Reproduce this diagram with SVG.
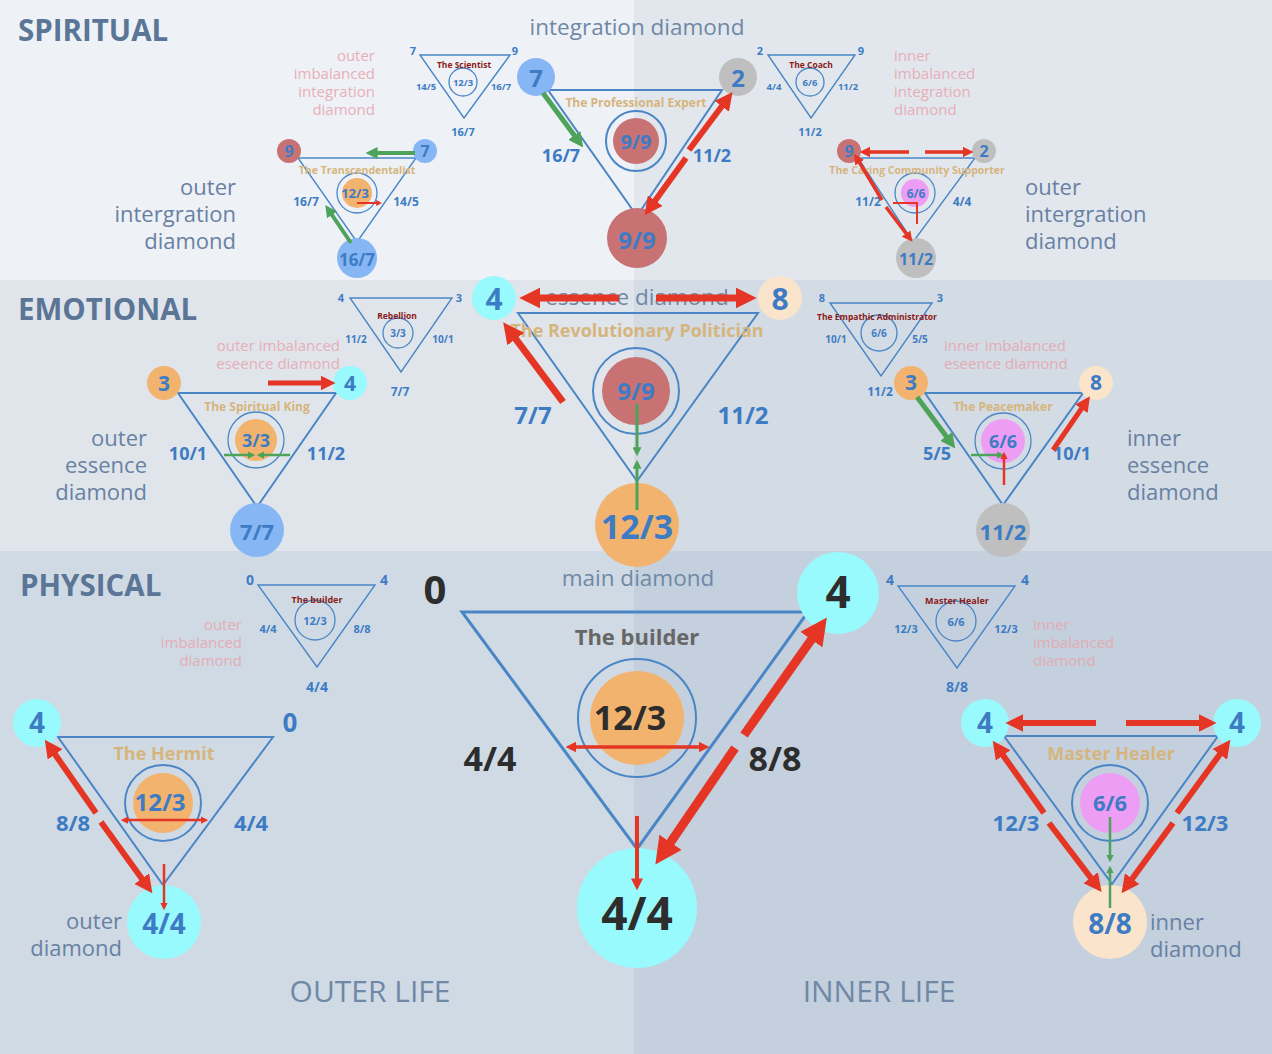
<svg xmlns="http://www.w3.org/2000/svg" width="1272" height="1054" viewBox="0 0 1272 1054">
<style>
text{font-family:"Open Sans","Noto Sans",sans-serif}
.b{font-weight:bold;fill:#3d7cc4;text-anchor:middle;dominant-baseline:central}
.d{font-weight:bold;fill:#2d2d2d;text-anchor:middle;dominant-baseline:central}
.tan{font-weight:bold;fill:#d6b57d;text-anchor:middle;dominant-baseline:central}
.dr{font-weight:bold;fill:#8b1a1a;text-anchor:middle;dominant-baseline:central}
.pk{fill:#e9a5ae;opacity:.85;font-size:15px}
.side{fill:#6881a3;font-size:22px}
.hd{font-weight:bold;fill:#5a7596;font-size:29.5px}
.cap{fill:#6f88a6;font-size:22.5px;text-anchor:middle}
.tri{fill:none;stroke:#4a86c6;stroke-width:2}
.tri1{fill:none;stroke:#4a86c6;stroke-width:1.4}
.ring{fill:none;stroke:#4a86c6;stroke-width:2}
.ring1{fill:none;stroke:#4a86c6;stroke-width:1.3}
.cb{fill:#86b6f3}.cg{fill:#bfbfbf}.cr{fill:#c87274}.co{fill:#f2b36f}.cc{fill:#98fafc}.cp{fill:#fbe4cc}.ck{fill:#ee9df5}
.ar{stroke:#e53525;fill:none;marker-end:url(#mr)}
.ag{stroke:#4ea35a;fill:none;marker-end:url(#mg)}
.dbl{marker-start:url(#mr)}
</style>
<defs>
<marker id="mr" viewBox="0 0 10 10" refX="3" refY="5" markerWidth="3" markerHeight="3" orient="auto-start-reverse"><path d="M0,0L10,5L0,10z" fill="#e53525"/></marker>
<marker id="mg" viewBox="0 0 10 10" refX="3" refY="5" markerWidth="3" markerHeight="3" orient="auto-start-reverse"><path d="M0,0L10,5L0,10z" fill="#4ea35a"/></marker>
</defs>
<g id="background">
<rect x="0" y="0" width="634" height="280" fill="#eef1f6"/>
<rect x="634" y="0" width="638" height="280" fill="#e2e7ed"/>
<rect x="0" y="280" width="634" height="271" fill="#e0e5eb"/>
<rect x="634" y="280" width="638" height="271" fill="#d3dbe4"/>
<rect x="0" y="551" width="634" height="503" fill="#d0dae4"/>
<rect x="634" y="551" width="638" height="503" fill="#c4d0dd"/>
</g>
<g id="labels">
<text class="hd" x="18" y="41">SPIRITUAL</text>
<text class="hd" x="18" y="320">EMOTIONAL</text>
<text class="hd" x="20" y="596">PHYSICAL</text>
<text class="cap" x="637" y="35">integration diamond</text>
<text class="cap" x="637" y="305">essence diamond</text>
<text class="cap" x="638" y="586">main diamond</text>
<text class="cap" x="370" y="1002" style="font-size:30px">OUTER LIFE</text>
<text class="cap" x="879" y="1002" style="font-size:30px">INNER LIFE</text>
<text class="side" text-anchor="end"><tspan x="236" y="195">outer</tspan><tspan x="236" y="222">intergration</tspan><tspan x="236" y="249">diamond</tspan></text>
<text class="side"><tspan x="1025" y="195">outer</tspan><tspan x="1025" y="222">intergration</tspan><tspan x="1025" y="249">diamond</tspan></text>
<text class="side" text-anchor="end"><tspan x="147" y="446">outer</tspan><tspan x="147" y="473">essence</tspan><tspan x="147" y="500">diamond</tspan></text>
<text class="side"><tspan x="1127" y="446">inner</tspan><tspan x="1127" y="473">essence</tspan><tspan x="1127" y="500">diamond</tspan></text>
<text class="side" text-anchor="end"><tspan x="122" y="929">outer</tspan><tspan x="122" y="956">diamond</tspan></text>
<text class="side"><tspan x="1150" y="930">inner</tspan><tspan x="1150" y="957">diamond</tspan></text>
<text class="pk" text-anchor="end"><tspan x="375" y="61">outer</tspan><tspan x="375" y="79">imbalanced</tspan><tspan x="375" y="97">integration</tspan><tspan x="375" y="115">diamond</tspan></text>
<text class="pk"><tspan x="894" y="61">inner</tspan><tspan x="894" y="79">imbalanced</tspan><tspan x="894" y="97">integration</tspan><tspan x="894" y="115">diamond</tspan></text>
<text class="pk" text-anchor="end"><tspan x="340" y="351">outer imbalanced</tspan><tspan x="340" y="369">eseence diamond</tspan></text>
<text class="pk"><tspan x="944" y="351">inner imbalanced</tspan><tspan x="944" y="369">eseence diamond</tspan></text>
<text class="pk" text-anchor="end"><tspan x="242" y="630">outer</tspan><tspan x="242" y="648">imbalanced</tspan><tspan x="242" y="666">diamond</tspan></text>
<text class="pk"><tspan x="1033" y="630">inner</tspan><tspan x="1033" y="648">imbalanced</tspan><tspan x="1033" y="666">diamond</tspan></text>
</g>

<g id="scientist">
<path class="tri1" d="M420,55H510L464,118Z"/>
<circle class="ring1" cx="463" cy="82" r="14"/>
<text class="b" x="413" y="50" font-size="11">7</text>
<text class="b" x="515" y="50" font-size="11">9</text>
<text class="dr" x="464" y="64" font-size="8.5">The Scientist</text>
<text class="b" x="463" y="82" font-size="9.5">12/3</text>
<text class="b" x="426" y="86" font-size="9.5">14/5</text>
<text class="b" x="501" y="86" font-size="9.5">16/7</text>
<text class="b" x="463" y="131" font-size="11">16/7</text>
</g>
<g id="coach">
<path class="tri1" d="M768,55H855L811,118Z"/>
<circle class="ring1" cx="810" cy="82" r="14"/>
<text class="b" x="760" y="50" font-size="11">2</text>
<text class="b" x="861" y="50" font-size="11">9</text>
<text class="dr" x="811" y="64" font-size="8.5">The Coach</text>
<text class="b" x="810" y="82" font-size="9.5">6/6</text>
<text class="b" x="774" y="86" font-size="9.5">4/4</text>
<text class="b" x="848" y="86" font-size="9.5">11/2</text>
<text class="b" x="810" y="131" font-size="11">11/2</text>
</g>
<g id="professional-expert">
<path class="tri" d="M548,90H722L637,216Z"/>
<circle class="ring" cx="636" cy="141" r="30"/>
<circle class="cr" cx="636" cy="141" r="23"/>
<text class="b" x="636" y="141" font-size="20">9/9</text>
<text class="tan" x="636" y="102" font-size="12">The Professional Expert</text>
<text class="b" x="561" y="155" font-size="18">16/7</text>
<text class="b" x="712" y="155" font-size="18">11/2</text>
</g>
<g id="n-7-pe"><circle class="cb" cx="536" cy="77" r="19"/><text class="b" x="536" y="77" font-size="24">7</text></g>
<g id="n-2-pe"><circle class="cg" cx="738" cy="77" r="19"/><text class="b" x="738" y="77" font-size="24">2</text></g>
<g id="n-99-pe"><circle class="cr" cx="637" cy="238" r="30"/><text class="b" x="637" y="239" font-size="24">9/9</text></g>

<g id="transcendentalist">
<path class="tri1" d="M298,158H416L357,242Z"/>
<circle class="ring1" cx="357" cy="193" r="20"/>
<circle class="co" cx="357" cy="193" r="15"/>
<text class="b" x="355" y="193" font-size="13">12/3</text>
<text class="tan" x="357" y="170" font-size="10.5">The Transcendentalist</text>
<text class="b" x="306" y="201" font-size="12">16/7</text>
<text class="b" x="406" y="201" font-size="12">14/5</text>
<circle class="cr" cx="289" cy="151" r="12"/><text class="b" x="289" y="151" font-size="16">9</text>
<circle class="cb" cx="425" cy="151" r="12"/><text class="b" x="425" y="151" font-size="16">7</text>
<circle class="cb" cx="357" cy="258" r="20"/><text class="b" x="357" y="259" font-size="17">16/7</text>
</g>
<g id="caring-community-supporter">
<path class="tri1" d="M858,158H975L913,242Z"/>
<circle class="ring1" cx="915" cy="193" r="20"/>
<circle class="ck" cx="915" cy="193" r="14"/>
<text class="b" x="916" y="193" font-size="12">6/6</text>
<text class="tan" x="917" y="170" font-size="10.5">The Caring Community Supporter</text>
<text class="b" x="868" y="201" font-size="12">11/2</text>
<text class="b" x="962" y="201" font-size="12">4/4</text>
<circle class="cr" cx="849" cy="151" r="12"/><text class="b" x="849" y="151" font-size="16">9</text>
<circle class="cg" cx="984" cy="151" r="12"/><text class="b" x="984" y="151" font-size="16">2</text>
<circle class="cg" cx="916" cy="258" r="20"/><text class="b" x="916" y="259" font-size="16">11/2</text>
</g>

<g id="rebellion">
<path class="tri1" d="M350,298H452L401,372Z"/>
<circle class="ring1" cx="398" cy="333" r="15"/>
<text class="b" x="341" y="297" font-size="11">4</text>
<text class="b" x="459" y="297" font-size="11">3</text>
<text class="dr" x="397" y="315" font-size="8.5">Rebellion</text>
<text class="b" x="398" y="333" font-size="10">3/3</text>
<text class="b" x="356" y="339" font-size="10">11/2</text>
<text class="b" x="443" y="339" font-size="10">10/1</text>
<text class="b" x="400" y="391" font-size="12">7/7</text>
</g>
<g id="empathic-administrator">
<path class="tri1" d="M830,303H932L881,376Z"/>
<circle class="ring1" cx="879" cy="333" r="18"/>
<text class="b" x="822" y="297" font-size="11">8</text>
<text class="b" x="940" y="297" font-size="11">3</text>
<text class="dr" x="877" y="316" font-size="8.5">The Empathic Administrator</text>
<text class="b" x="879" y="333" font-size="10">6/6</text>
<text class="b" x="836" y="339" font-size="10">10/1</text>
<text class="b" x="920" y="339" font-size="10">5/5</text>
<text class="b" x="880" y="391" font-size="12">11/2</text>
</g>
<g id="revolutionary-politician">
<path class="tri" d="M518,313H758L637,481Z"/>
<circle class="ring" cx="636" cy="391" r="43"/>
<circle class="cr" cx="636" cy="391" r="34"/>
<text class="b" x="636" y="390" font-size="24">9/9</text>
<text class="tan" x="637" y="330" font-size="18">The Revolutionary Politician</text>
<text class="b" x="533" y="414" font-size="24">7/7</text>
<text class="b" x="743" y="414" font-size="24">11/2</text>
</g>
<g id="n-4-rp"><circle class="cc" cx="494" cy="298" r="22"/><text class="b" x="494" y="298" font-size="30">4</text></g>
<g id="n-8-rp"><circle class="cp" cx="780" cy="298" r="22"/><text class="b" x="780" y="298" font-size="30">8</text></g>
<g id="n-123-rp"><circle class="co" cx="637" cy="525" r="42"/><text class="b" x="637" y="526" font-size="34">12/3</text></g>

<g id="spiritual-king">
<path class="tri" d="M178,393H336L257,507Z"/>
<circle class="ring1" cx="256" cy="440" r="28"/>
<circle class="co" cx="256" cy="440" r="21"/>
<text class="b" x="256" y="440" font-size="18">3/3</text>
<text class="tan" x="257" y="406" font-size="12">The Spiritual King</text>
<text class="b" x="188" y="453" font-size="18">10/1</text>
<text class="b" x="326" y="453" font-size="18">11/2</text>
<circle class="co" cx="164" cy="383" r="17"/><text class="b" x="164" y="383" font-size="21">3</text>
<circle class="cc" cx="350" cy="383" r="17"/><text class="b" x="350" y="383" font-size="21">4</text>
<circle class="cb" cx="257" cy="530" r="27"/><text class="b" x="257" y="531" font-size="22">7/7</text>
</g>
<g id="peacemaker">
<path class="tri" d="M925,393H1083L1003,505Z"/>
<circle class="ring1" cx="1003" cy="441" r="28"/>
<circle class="ck" cx="1003" cy="441" r="22"/>
<text class="b" x="1003" y="441" font-size="18">6/6</text>
<text class="tan" x="1003" y="406" font-size="12">The Peacemaker</text>
<text class="b" x="937" y="453" font-size="18">5/5</text>
<text class="b" x="1072" y="453" font-size="18">10/1</text>
<circle class="co" cx="911" cy="383" r="17"/><text class="b" x="911" y="382" font-size="21">3</text>
<circle class="cp" cx="1096" cy="383" r="17"/><text class="b" x="1096" y="382" font-size="21">8</text>
<circle class="cg" cx="1003" cy="530" r="27"/><text class="b" x="1003" y="531" font-size="22">11/2</text>
</g>

<g id="builder-small">
<path class="tri1" d="M258,585H375L317,667Z"/>
<circle class="ring1" cx="315" cy="620" r="20"/>
<text class="b" x="250" y="579" font-size="14">0</text>
<text class="b" x="384" y="579" font-size="14">4</text>
<text class="dr" x="317" y="599" font-size="9">The builder</text>
<text class="b" x="315" y="620" font-size="11">12/3</text>
<text class="b" x="268" y="628" font-size="11">4/4</text>
<text class="b" x="362" y="628" font-size="11">8/8</text>
<text class="b" x="317" y="686" font-size="14">4/4</text>
</g>
<g id="master-healer-small">
<path class="tri1" d="M898,586H1015L957,668Z"/>
<circle class="ring1" cx="956" cy="621" r="20"/>
<text class="b" x="890" y="579" font-size="14">4</text>
<text class="b" x="1025" y="579" font-size="14">4</text>
<text class="dr" x="957" y="600" font-size="9">Master Healer</text>
<text class="b" x="956" y="621" font-size="11">6/6</text>
<text class="b" x="906" y="628" font-size="11">12/3</text>
<text class="b" x="1006" y="628" font-size="11">12/3</text>
<text class="b" x="957" y="686" font-size="14">8/8</text>
</g>
<g id="builder-main">
<path class="tri" d="M462,612H808L637,849Z" style="stroke-width:3"/>
<circle class="ring" cx="637" cy="718" r="59"/>
<circle class="co" cx="637" cy="718" r="47"/>
<text class="d" x="630" y="717" font-size="34">12/3</text>
<text x="637" y="636" font-size="22" font-weight="bold" fill="#666" text-anchor="middle" dominant-baseline="central">The builder</text>
<text class="d" x="490" y="758" font-size="34">4/4</text>
<text class="d" x="775" y="758" font-size="34">8/8</text>
<text class="d" x="435" y="588" font-size="40">0</text>
</g>
<g id="n-4-main"><circle class="cc" cx="838" cy="593" r="41"/><text class="d" x="838" y="591" font-size="44">4</text></g>
<g id="n-44-main"><circle class="cc" cx="637" cy="908" r="60"/><text class="d" x="637" y="912" font-size="46">4/4</text></g>

<g id="hermit">
<path class="tri" d="M58,737H273L163,885Z"/>
<circle class="ring" cx="163" cy="803" r="38"/>
<circle class="co" cx="163" cy="803" r="30"/>
<text class="b" x="160" y="801" font-size="24">12/3</text>
<text class="tan" x="164" y="753" font-size="18">The Hermit</text>
<text class="b" x="73" y="822" font-size="22">8/8</text>
<text class="b" x="251" y="822" font-size="22">4/4</text>
<text class="b" x="290" y="722" font-size="26">0</text>
<circle class="cc" cx="37" cy="723" r="24"/><text class="b" x="37" y="722" font-size="28">4</text>
<circle class="cc" cx="164" cy="922" r="37"/><text class="b" x="164" y="923" font-size="28">4/4</text>
</g>
<g id="master-healer">
<path class="tri" d="M1004,736H1218L1112,884Z"/>
<circle class="ring" cx="1110" cy="803" r="38"/>
<circle class="ck" cx="1110" cy="803" r="30"/>
<text class="b" x="1110" y="802" font-size="22">6/6</text>
<text class="tan" x="1111" y="753" font-size="18">Master Healer</text>
<text class="b" x="1016" y="822" font-size="22">12/3</text>
<text class="b" x="1205" y="822" font-size="22">12/3</text>
<circle class="cc" cx="985" cy="723" r="24"/><text class="b" x="985" y="722" font-size="28">4</text>
<circle class="cc" cx="1237" cy="723" r="24"/><text class="b" x="1237" y="722" font-size="28">4</text>
<circle class="cp" cx="1110" cy="922" r="37"/><text class="b" x="1110" y="923" font-size="28">8/8</text>
</g>

<g id="connectors">
<line class="ag" x1="543" y1="93" x2="577" y2="139" stroke-width="5"/>
<line class="ar" x1="689" y1="150" x2="725" y2="102" stroke-width="6"/>
<line class="ar" x1="686" y1="158" x2="652" y2="205" stroke-width="6"/>
<line class="ag" x1="415" y1="153" x2="374" y2="153" stroke-width="4"/>
<line class="ag" x1="351" y1="243" x2="330" y2="212" stroke-width="4"/>
<line class="ar" x1="357" y1="203" x2="378" y2="203" stroke-width="2"/>
<line class="ar" x1="909" y1="152" x2="867" y2="152" stroke-width="3.5"/>
<line class="ar" x1="925" y1="152" x2="966" y2="152" stroke-width="3.5"/>
<line class="ar" x1="882" y1="200" x2="858" y2="160" stroke-width="3.5"/>
<line class="ar" x1="886" y1="207" x2="908" y2="236" stroke-width="3.5"/>
<path d="M893,203H917V224" stroke="#e53525" stroke-width="2" fill="none"/>
<line class="ar" x1="619" y1="298" x2="534" y2="298" stroke-width="7"/>
<line class="ar" x1="656" y1="298" x2="742" y2="298" stroke-width="7"/>
<line class="ar" x1="563" y1="402" x2="512" y2="334" stroke-width="7"/>
<line class="ag" x1="637" y1="404" x2="637" y2="450" stroke-width="3"/>
<line class="ag" x1="637" y1="510" x2="637" y2="466" stroke-width="3"/>
<line class="ar" x1="268" y1="383" x2="325" y2="383" stroke-width="5"/>
<line class="ag" x1="224" y1="455" x2="250" y2="455" stroke-width="2.5"/>
<line class="ag" x1="290" y1="455" x2="262" y2="455" stroke-width="2.5"/>
<line class="ag" x1="917" y1="397" x2="949" y2="440" stroke-width="5"/>
<line class="ar" x1="1053" y1="450" x2="1084" y2="405" stroke-width="5"/>
<line class="ag" x1="971" y1="455" x2="999" y2="455" stroke-width="2.5"/>
<line class="ar" x1="1004" y1="485" x2="1004" y2="457" stroke-width="2.5"/>
<line class="ar dbl" x1="573" y1="747" x2="702" y2="747" stroke-width="3.5"/>
<line class="ar" x1="637" y1="816" x2="637" y2="882" stroke-width="4"/>
<line class="ar" x1="744" y1="735" x2="816" y2="633" stroke-width="9"/>
<line class="ar" x1="735" y1="748" x2="666" y2="849" stroke-width="9"/>
<line class="ar" x1="96" y1="813" x2="52" y2="750" stroke-width="6"/>
<line class="ar" x1="101" y1="822" x2="145" y2="883" stroke-width="6"/>
<line class="ar dbl" x1="126" y1="820" x2="203" y2="820" stroke-width="2.5"/>
<line class="ar" x1="164" y1="864" x2="164" y2="905" stroke-width="2.5"/>
<line class="ar" x1="1096" y1="723" x2="1018" y2="723" stroke-width="6"/>
<line class="ar" x1="1126" y1="723" x2="1204" y2="723" stroke-width="6"/>
<line class="ar" x1="1044" y1="813" x2="1000" y2="751" stroke-width="6"/>
<line class="ar" x1="1049" y1="823" x2="1094" y2="882" stroke-width="6"/>
<line class="ar" x1="1177" y1="813" x2="1223" y2="750" stroke-width="6"/>
<line class="ar" x1="1173" y1="823" x2="1129" y2="883" stroke-width="6"/>
<line class="ag" x1="1110" y1="817" x2="1110" y2="857" stroke-width="2.5"/>
<line class="ag" x1="1110" y1="908" x2="1110" y2="871" stroke-width="2.5"/>
</g>
</svg>
